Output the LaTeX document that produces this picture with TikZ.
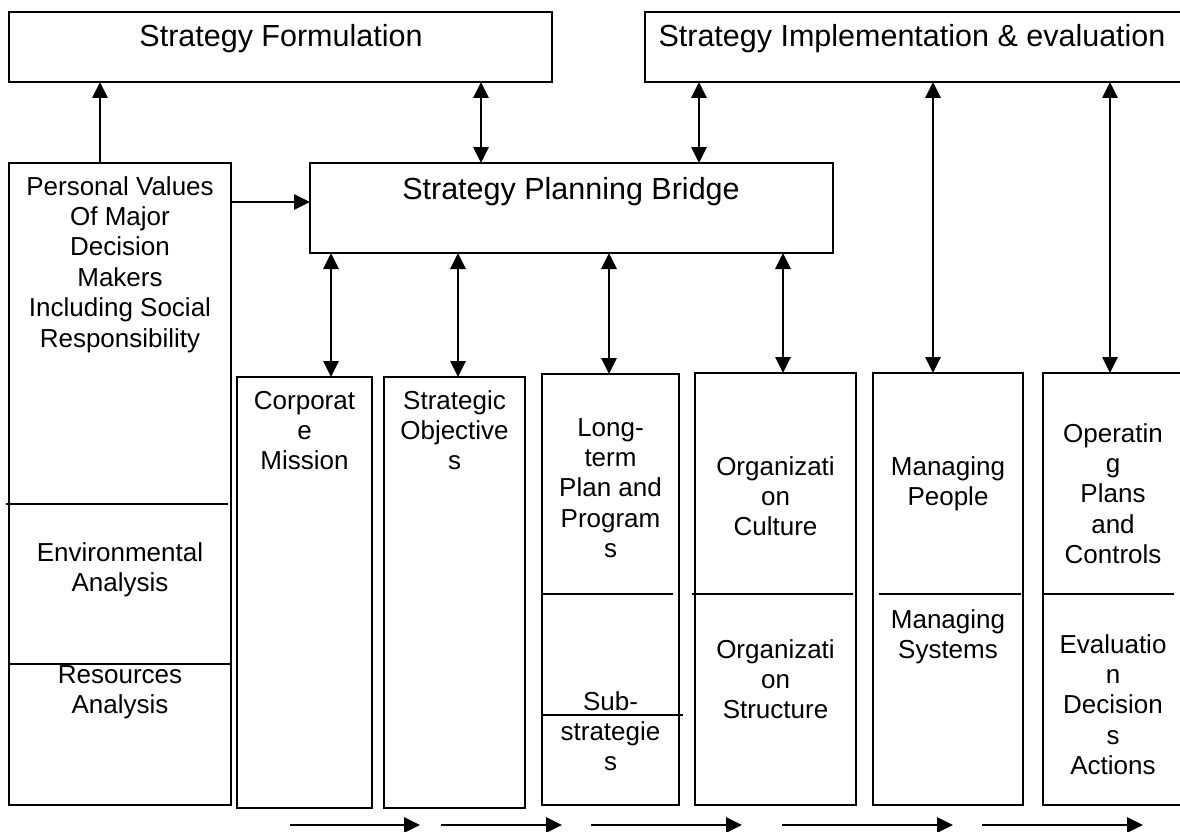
\documentclass[tikz,border=0pt]{standalone}
\usepackage{fontspec}
\setmainfont{Liberation Sans}
\usetikzlibrary{arrows.meta}
\tikzset{
  box/.style={draw, line width=2pt, inner sep=0pt, outer sep=0pt, anchor=north west},
  divider/.style={line width=1.8pt},
  arr/.style={line width=2.7pt, -{Triangle[length=16pt,width=15pt]}},
  darr/.style={line width=2.7pt, {Triangle[length=16pt,width=15pt]}-{Triangle[length=16pt,width=15pt]}},
  txt/.style={anchor=north, inner sep=0pt, outer sep=0pt, align=center, font=\fontsize{26}{30.4}\selectfont},
  ttl/.style={anchor=north, inner sep=0pt, outer sep=0pt, align=center, font=\fontsize{30.5}{36}\selectfont}
}
\newcommand{\fs}{\rule{0pt}{20pt}}
\newcommand{\ft}{\rule{0pt}{24pt}}
\begin{document}
\begin{tikzpicture}[x=1pt,y=-1pt]
\useasboundingbox[fill=white] (0,0) rectangle (1180,832);
% boxes
\node[box, minimum width=543pt, minimum height=70pt] (sf) at (9,12) {};
\node[box, minimum width=545pt, minimum height=70pt] (imp) at (645,12) {};
\node[box, minimum width=222pt, minimum height=642pt] (pv) at (9,163) {};
\node[box, minimum width=523pt, minimum height=90pt] (bridge) at (310,163) {};
\node[box, minimum width=135pt, minimum height=431pt] (cm) at (237,377) {};
\node[box, minimum width=141pt, minimum height=431pt] (so) at (384,377) {};
\node[box, minimum width=137pt, minimum height=431pt] (lt) at (542,374) {};
\node[box, minimum width=161pt, minimum height=432pt] (oc) at (695,373) {};
\node[box, minimum width=150pt, minimum height=432pt] (mp) at (873,373) {};
\node[box, minimum width=145pt, minimum height=432pt] (op) at (1043,373) {};
% dividers
\draw[divider] (6,504) -- (228,504);
\draw[divider] (9,664) -- (231,664);
\draw[divider] (542,594) -- (673,594);
\draw[divider] (542,715) -- (683,715);
\draw[divider] (692,594) -- (853,594);
\draw[divider] (879,594) -- (1021,594);
\draw[divider] (1043,594) -- (1174,594);
% texts
\node[ttl] (sft) at (281,22.5) {\ft Strategy Formulation};
\node[ttl] (impt) at (912,22.5) {\ft Strategy Implementation \& evaluation};
\node[ttl] (bt) at (571,175) {\ft Strategy Planning Bridge};
\node[txt] (pvt) at (120,175) {\fs Personal Values\\Of Major\\Decision\\Makers\\Including Social\\Responsibility};
\node[txt] (envt) at (120,541) {\fs Environmental\\Analysis};
\node[txt] (rest) at (120,663) {\fs Resources\\Analysis};
\node[txt] (cmt) at (304.5,389) {\fs Corporat\\e\\Mission};
\node[txt] (sot) at (454.5,389) {\fs Strategic\\Objective\\s};
\node[txt] (ltt) at (610.5,416) {\fs Long-\\term\\Plan and\\Program\\s};
\node[txt] (ltb) at (610.5,690) {\fs Sub-\\strategie\\s};
\node[txt] (oct) at (775.5,455) {\fs Organizati\\on\\Culture};
\node[txt] (ocb) at (775.5,638) {\fs Organizati\\on\\Structure};
\node[txt] (mpt) at (948,455) {\fs Managing\\People};
\node[txt] (mpb) at (948,608) {\fs Managing\\Systems};
\node[txt] (opt) at (1113,422) {\fs Operatin\\g\\Plans\\and\\Controls};
\node[txt] (opb) at (1113,633) {\fs Evaluatio\\n\\Decision\\s\\Actions};
% helper coordinates
\coordinate (xa) at (100,0);
\coordinate (xb) at (481,0);
\coordinate (xc) at (699,0);
\coordinate (xd) at (331,0);
\coordinate (xe) at (458,0);
\coordinate (xf) at (609,0);
\coordinate (xg) at (783,0);
\coordinate (xh) at (933,0);
\coordinate (xi) at (1110,0);
\coordinate (yh) at (0,202);
% connectors
\draw[arr] (pv.north -| xa) -- (sf.south -| xa);
\draw[darr] (sf.south -| xb) -- (bridge.north -| xb);
\draw[darr] (imp.south -| xc) -- (bridge.north -| xc);
\draw[arr] (pv.east |- yh) -- (bridge.west |- yh);
\draw[darr] (bridge.south -| xd) -- (cm.north -| xd);
\draw[darr] (bridge.south -| xe) -- (so.north -| xe);
\draw[darr] (bridge.south -| xf) -- (lt.north -| xf);
\draw[darr] (bridge.south -| xg) -- (oc.north -| xg);
\draw[darr] (imp.south -| xh) -- (mp.north -| xh);
\draw[darr] (imp.south -| xi) -- (op.north -| xi);
% bottom flow arrows
\coordinate (b1s) at (290,825); \coordinate (b1e) at (420,825);
\coordinate (b2s) at (441,825); \coordinate (b2e) at (562,825);
\coordinate (b3s) at (591,825); \coordinate (b3e) at (742,825);
\coordinate (b4s) at (782,825); \coordinate (b4e) at (953,825);
\coordinate (b5s) at (982,825); \coordinate (b5e) at (1143,825);
\draw[arr] (b1s) -- (b1e);
\draw[arr] (b2s) -- (b2e);
\draw[arr] (b3s) -- (b3e);
\draw[arr] (b4s) -- (b4e);
\draw[arr] (b5s) -- (b5e);
\end{tikzpicture}
\end{document}
